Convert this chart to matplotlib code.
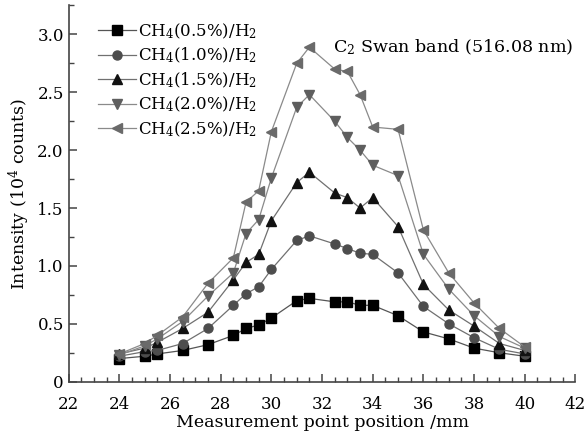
import numpy as np
import matplotlib
matplotlib.use("Agg")
import matplotlib.pyplot as plt
from matplotlib.ticker import MultipleLocator, FuncFormatter

plt.rcParams['font.family'] = ['DejaVu Serif']
plt.rcParams['mathtext.fontset'] = 'dejavuserif'

# Positions de mesure (mm)
x_pos = [24, 25, 25.5, 26.5, 27.5, 28.5, 29, 29.5, 30, 31, 31.5,
         32.5, 33, 33.5, 34, 35, 36, 37, 38, 39, 40]

# Intensité (10^4 counts) pour chaque concentration de CH4
i_05 = [0.20, 0.22, 0.24, 0.27, 0.32, 0.40, 0.46, 0.49, 0.55, 0.70, 0.72,
        0.69, 0.69, 0.66, 0.66, 0.57, 0.43, 0.37, 0.29, 0.25, 0.22]
i_10 = [0.22, 0.26, 0.27, 0.33, 0.46, 0.66, 0.76, 0.82, 0.97, 1.22, 1.26,
        1.19, 1.15, 1.11, 1.10, 0.94, 0.65, 0.50, 0.38, 0.28, 0.24]
i_15 = [0.24, 0.29, 0.34, 0.46, 0.60, 0.88, 1.03, 1.10, 1.39, 1.72, 1.81,
        1.63, 1.59, 1.50, 1.59, 1.34, 0.84, 0.62, 0.48, 0.33, 0.27]
i_20 = [0.23, 0.31, 0.37, 0.52, 0.74, 0.94, 1.28, 1.40, 1.76, 2.37, 2.48,
        2.25, 2.11, 2.00, 1.87, 1.78, 1.10, 0.80, 0.57, 0.39, 0.29]
i_25 = [0.24, 0.33, 0.40, 0.56, 0.85, 1.07, 1.55, 1.65, 2.16, 2.75, 2.89,
        2.70, 2.68, 2.48, 2.20, 2.18, 1.31, 0.94, 0.68, 0.46, 0.30]

labels = ['CH$_4$(0.5%)/H$_2$', 'CH$_4$(1.0%)/H$_2$', 'CH$_4$(1.5%)/H$_2$',
          'CH$_4$(2.0%)/H$_2$', 'CH$_4$(2.5%)/H$_2$']

series = [i_05, i_10, i_15, i_20, i_25]
markers = ['s', 'o', '^', 'v', '<']
mcolors = ['#000000', '#4d4d4d', '#111111', '#5e5e5e', '#6a6a6a']
lcolors = ['#555555', '#707070', '#707070', '#8a8a8a', '#8a8a8a']

fig = plt.figure(figsize=(5.88, 4.38), dpi=100)
ax = fig.add_axes([0.1167, 0.1285, 0.862, 0.859])

for y, m, mc, lc, lab in zip(series, markers, mcolors, lcolors, labels):
    ax.plot(x_pos, y, marker=m, color=lc, markerfacecolor=mc, markeredgecolor=mc,
            markersize=6.5, linewidth=0.9, label=lab)

ax.set_xlim(22, 42)
ax.set_ylim(0, 3.25)
ax.xaxis.set_major_locator(MultipleLocator(2))
ax.xaxis.set_minor_locator(MultipleLocator(0.5))
ax.yaxis.set_major_locator(MultipleLocator(0.5))
ax.yaxis.set_minor_locator(MultipleLocator(0.25))
ax.yaxis.set_major_formatter(FuncFormatter(lambda v, p: '0' if v == 0 else f'{v:.1f}'))

for s in ['top', 'right']:
    ax.spines[s].set_visible(False)
for s in ['left', 'bottom']:
    ax.spines[s].set_color('#444444')
    ax.spines[s].set_linewidth(1.2)
ax.tick_params(which='both', direction='in', colors='#444444', labelcolor='black',
               labelsize=12)
ax.tick_params(which='major', length=6, width=1.1)
ax.tick_params(which='minor', length=3.5, width=1.0)
ax.tick_params(axis='x', which='major', pad=10)

ax.set_xlabel('Measurement point position /mm', fontsize=12.5, labelpad=1)
ax.set_ylabel('Intensity (10$^4$ counts)', fontsize=12.5, labelpad=4)

ax.text(32.45, 2.89, 'C$_2$ Swan band (516.08 nm)', fontsize=12.6, ha='left', va='center')

ax.legend(loc='upper left', bbox_to_anchor=(0.045, 0.975), frameon=False,
          fontsize=12, handlelength=2.3, handletextpad=0.1, labelspacing=0.3,
          borderaxespad=0)

fig.savefig('out.png', dpi=100)
